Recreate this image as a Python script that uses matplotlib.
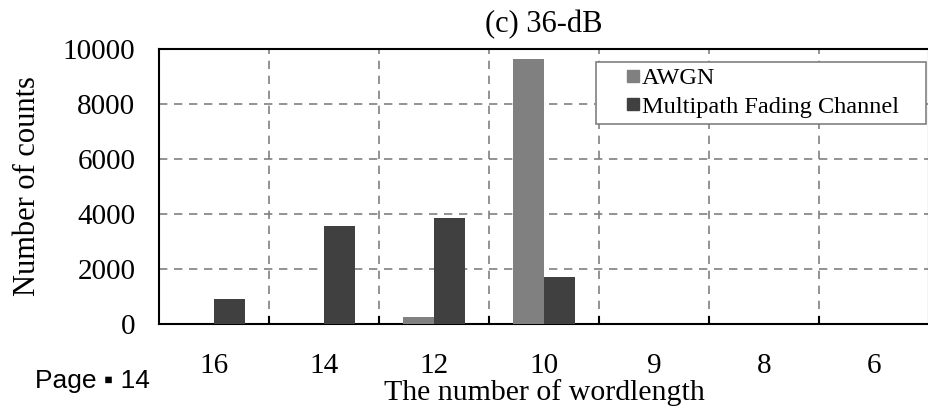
import numpy as np
import matplotlib.pyplot as plt
from matplotlib.patches import Patch, Rectangle
from matplotlib.legend_handler import HandlerPatch

plt.rcParams['font.family'] = ['Liberation Serif', 'DejaVu Serif']

wordlength = ['16', '14', '12', '10', '9', '8', '6']
awgn = [0, 0, 250, 9650, 0, 0, 0]
fading = [920, 3550, 3850, 1700, 0, 0, 0]

awgn_color = '#808080'
fading_color = '#404040'


def square_right(legend, orig_handle, xdescent, ydescent, width, height, fontsize):
    # small square sitting at the right end of the handle box
    side = 12 * 72 / 100
    return Rectangle((width - side - xdescent, height / 2 - side / 2 - ydescent), side, side)


fig = plt.figure(figsize=(9.29, 4.07), dpi=100)
ax = fig.add_axes([159 / 929, 83 / 407, 770 / 929, 275 / 407])

x = np.arange(len(wordlength))
width = 0.28
ax.bar(x - width / 2, awgn, width=width, color=awgn_color, zorder=3)
ax.bar(x + width / 2, fading, width=width, color=fading_color, zorder=3)

ax.set_xlim(-0.5, len(wordlength) - 0.5)
ax.set_ylim(0, 10000)
ax.set_yticks(np.arange(0, 10001, 2000))
ax.set_xticks(x)
ax.set_xticklabels(wordlength)
ax.set_xticks(np.arange(0.5, len(wordlength) - 1, 1), minor=True)

ax.tick_params(axis='x', which='major', length=0, pad=21, labelsize=21)
ax.tick_params(axis='x', which='minor', direction='in', length=6, width=1.5)
ax.tick_params(axis='y', length=0, pad=17, labelsize=21)

ax.grid(axis='y', which='major', color='#808080', linestyle=(0, (5, 4)), linewidth=1.2, zorder=0)
ax.grid(axis='x', which='minor', color='#808080', linestyle=(0, (5, 4)), linewidth=1.2, zorder=0)
ax.grid(axis='x', which='major', visible=False)

for s in ax.spines.values():
    s.set_linewidth(1.5)
    s.set_color('black')

ax.set_title('(c) 36-dB', fontsize=22, pad=12)
ax.set_xlabel('The number of wordlength', fontsize=21.5, labelpad=0)
ax.set_ylabel('Number of counts', fontsize=22, labelpad=15)

handles = [Patch(color=awgn_color, label='AWGN'),
           Patch(color=fading_color, label='Multipath Fading Channel')]
leg = ax.legend(handles=handles, loc='upper left', mode='expand',
                bbox_to_anchor=(0.5675, 0.72, 0.4287, 0.233),
                fontsize=17.5, fancybox=False, framealpha=1, edgecolor='#808080',
                handlelength=1.5, handleheight=0.6, handletextpad=0.15,
                borderaxespad=0, borderpad=0.25, labelspacing=0.3,
                handler_map={Patch: HandlerPatch(patch_func=square_right)})
leg.get_frame().set_linewidth(1.2)

fig.text(35 / 929, 1 - 381 / 407, 'Page \u25aa 14', fontsize=19,
         family='Liberation Sans', va='center', ha='left')

fig.savefig('out.png', dpi=100)
